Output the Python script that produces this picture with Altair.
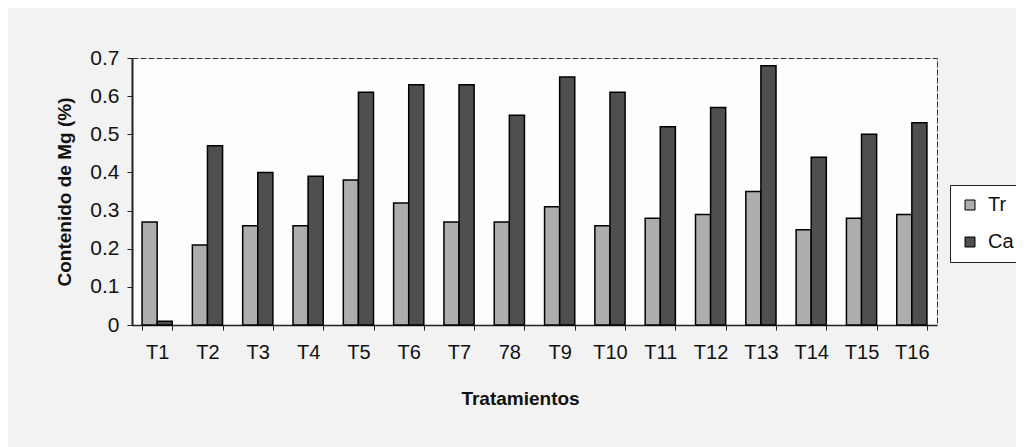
import altair as alt
import pandas as pd

categories = ["T1", "T2", "T3", "T4", "T5", "T6", "T7", "78", "T9", "T10",
              "T11", "T12", "T13", "T14", "T15", "T16"]
tr_values = [0.27, 0.21, 0.26, 0.26, 0.38, 0.32, 0.27, 0.27, 0.31, 0.26,
             0.28, 0.29, 0.35, 0.25, 0.28, 0.29]
ca_values = [0.01, 0.47, 0.40, 0.39, 0.61, 0.63, 0.63, 0.55, 0.65, 0.61,
             0.52, 0.57, 0.68, 0.44, 0.50, 0.53]
series = ["Tr", "Ca"]
colors = ["#adadad", "#4f4f4f"]

rows = []
for c, t, a in zip(categories, tr_values, ca_values):
    rows.append({"Tratamiento": c, "Serie": "Tr", "Valor": t})
    rows.append({"Tratamiento": c, "Serie": "Ca", "Valor": a})
df = pd.DataFrame(rows)

font = "Liberation Sans"

chart = alt.Chart(df).mark_bar(stroke="black", strokeWidth=1.5).encode(
    x=alt.X("Tratamiento:N", sort=categories,
            scale=alt.Scale(paddingInner=0.4, paddingOuter=0.2),
            axis=alt.Axis(title="Tratamientos", labelAngle=0, tickBand="extent",
                          labelFontSize=20, titleFontSize=19, titleFontWeight="bold",
                          labelFont=font, titleFont=font, labelColor="#111",
                          titleColor="#111", domainColor="#222", domainWidth=1.5,
                          tickColor="#222", tickSize=5, labelPadding=12, titlePadding=27,
                          titleX=388)),
    xOffset=alt.XOffset("Serie:N", sort=series),
    y=alt.Y("Valor:Q", scale=alt.Scale(domain=[0, 0.7]),
            axis=alt.Axis(title="Contenido de Mg (%)", values=[0, 0.1, 0.2, 0.3, 0.4, 0.5, 0.6, 0.7],
                          format="~g", grid=False, labelFontSize=21, titleFontSize=19,
                          titleFontWeight="bold", labelFont=font, titleFont=font,
                          labelColor="#111", titleColor="#111", domainColor="#222",
                          domainWidth=2, tickColor="#222", tickSize=5, labelPadding=8,
                          titlePadding=15)),
    color=alt.Color("Serie:N", sort=series,
                    scale=alt.Scale(domain=series, range=colors),
                    legend=alt.Legend(title=None, orient="none", legendX=818, legendY=127,
                                      symbolType="square", symbolSize=100,
                                      symbolStrokeColor="black", symbolStrokeWidth=1,
                                      labelFontSize=20, labelFont=font, labelColor="#111",
                                      labelOffset=8, labelLimit=60,
                                      strokeColor="#222", fillColor="white",
                                      padding=10, rowPadding=17)),
).properties(
    width=805, height=267,
    autosize=alt.AutoSizeParams(type="none"),
    padding={"left": 124, "top": 50, "right": 79, "bottom": 122},
    background="#f2f2f2",
).configure_view(
    stroke="#333", strokeDash=[6, 2], strokeWidth=1, fill="#fdfdfd"
)

chart.save("out.html", embed_options={"renderer": "svg", "actions": False})
